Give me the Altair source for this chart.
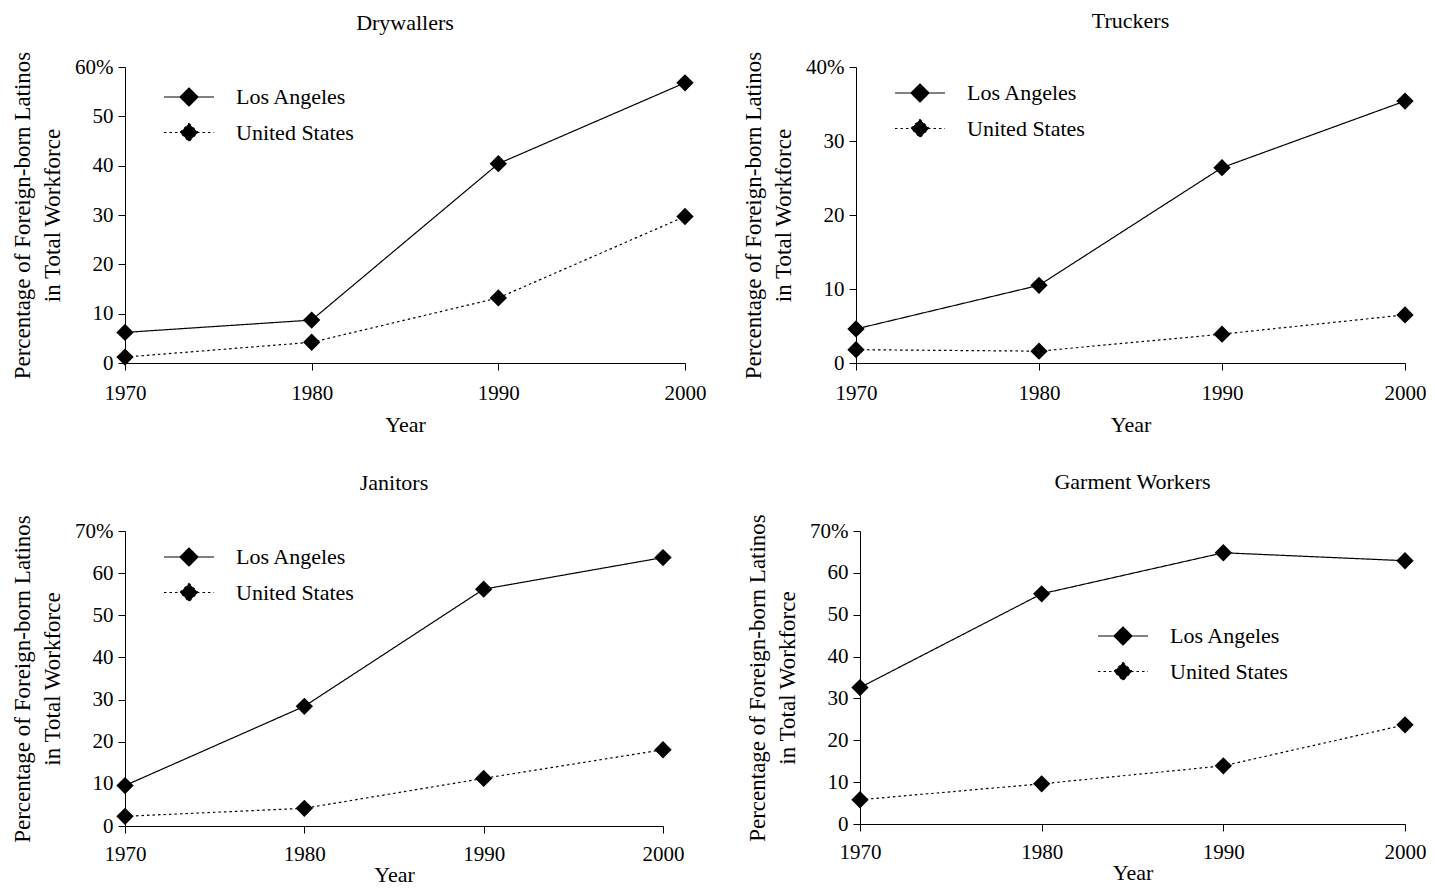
import altair as alt
import pandas as pd

years = [1970, 1980, 1990, 2000]
series_names = ["Los Angeles", "United States"]

drywall_la = [6.2, 8.7, 40.4, 56.8]
drywall_us = [1.2, 4.2, 13.2, 29.7]
truck_la = [4.6, 10.5, 26.4, 35.4]
truck_us = [1.8, 1.6, 3.9, 6.5]
janitor_la = [9.6, 28.4, 56.2, 63.7]
janitor_us = [2.3, 4.2, 11.3, 18.1]
garment_la = [32.6, 55.0, 64.8, 62.9]
garment_us = [5.8, 9.6, 13.9, 23.7]

FONT = "Liberation Serif"
LEGEND_PATH = "M-2.78,0L2.78,0M0,-1L1,0L0,1L-1,0Z"


def make_df(la, us):
    rows = []
    for y, v in zip(years, la):
        rows.append({"Year": y, "Value": v, "Series": series_names[0]})
    for y, v in zip(years, us):
        rows.append({"Year": y, "Value": v, "Series": series_names[1]})
    return pd.DataFrame(rows)


def panel(title, la, us, ymax, w, h, lx, ly, toff, lpad, tpad):
    df = make_df(la, us)
    x = alt.X("Year:Q",
              scale=alt.Scale(domain=[1970, 2000], nice=False, zero=False),
              axis=alt.Axis(values=years, format="d", title="Year",
                            labelFontSize=21, titleFontSize=22, labelFlush=False,
                            labelPadding=lpad, titlePadding=tpad))
    y = alt.Y("Value:Q",
              scale=alt.Scale(domain=[0, ymax], nice=False),
              axis=alt.Axis(values=list(range(0, ymax + 1, 10)),
                            labelExpr=f"datum.value == {ymax} ? datum.label + '%' : datum.label",
                            title=["Percentage of Foreign-born Latinos", "in Total Workforce"],
                            labelFontSize=21, titleFontSize=23, labelFlush=False,
                            titleLineHeight=30, titlePadding=10, labelPadding=5))
    dash_scale = alt.Scale(domain=series_names, range=[[1, 0], [2.5, 3]])
    line = alt.Chart(df).mark_line(color="black", strokeWidth=1.2).encode(
        x=x, y=y,
        strokeDash=alt.StrokeDash("Series:N", scale=dash_scale,
                                  legend=alt.Legend(orient="none", legendX=lx, legendY=ly,
                                                    title=None, symbolType=LEGEND_PATH,
                                                    symbolSize=324, symbolStrokeWidth=1.2,
                                                    symbolFillColor="black",
                                                    symbolStrokeColor="black",
                                                    symbolOpacity=1,
                                                    labelFont=FONT, labelFontSize=22,
                                                    labelColor="black",
                                                    labelOffset=36, rowPadding=11.5,
                                                    padding=0, labelLimit=400)),
        detail="Series:N")
    pts = alt.Chart(df).mark_point(shape="diamond", filled=True, size=300,
                                   color="black", opacity=1).encode(
        x=x, y=y, detail="Series:N")
    return alt.layer(line, pts).properties(
        width=w, height=h,
        title=alt.TitleParams(title, font=FONT, fontSize=22, fontWeight="normal",
                              color="black", offset=toff))


p1 = panel("Drywallers", drywall_la, drywall_us, 60, 560, 296, 53, 19, 16, 12, 11)
p2 = panel("Truckers", truck_la, truck_us, 40, 549, 296, 53, 15, 18, 12, 11)
p3 = panel("Janitors", janitor_la, janitor_us, 70, 538, 295, 53, 15, 20, 10, 0)
p4 = panel("Garment Workers", garment_la, garment_us, 70, 545, 293, 252, 94, 20, 10, 0)

row1 = alt.hconcat(p1, p2, spacing=36).resolve_scale(strokeDash="independent")
row2 = alt.hconcat(p3, p4, spacing=62).resolve_scale(strokeDash="independent")

chart = alt.vconcat(row1, row2, spacing=35).resolve_scale(
    strokeDash="independent").properties(
    padding={"left": 3, "top": 2, "right": 0, "bottom": 0}).configure_view(
    stroke=None).configure_axis(
    grid=False, domainColor="black", tickColor="black", labelColor="black",
    titleColor="black", labelFont=FONT, titleFont=FONT, titleFontWeight="normal",
    tickSize=7, domainWidth=1, tickWidth=1)

chart.save("out.html", embed_options={"renderer": "svg", "actions": False})
